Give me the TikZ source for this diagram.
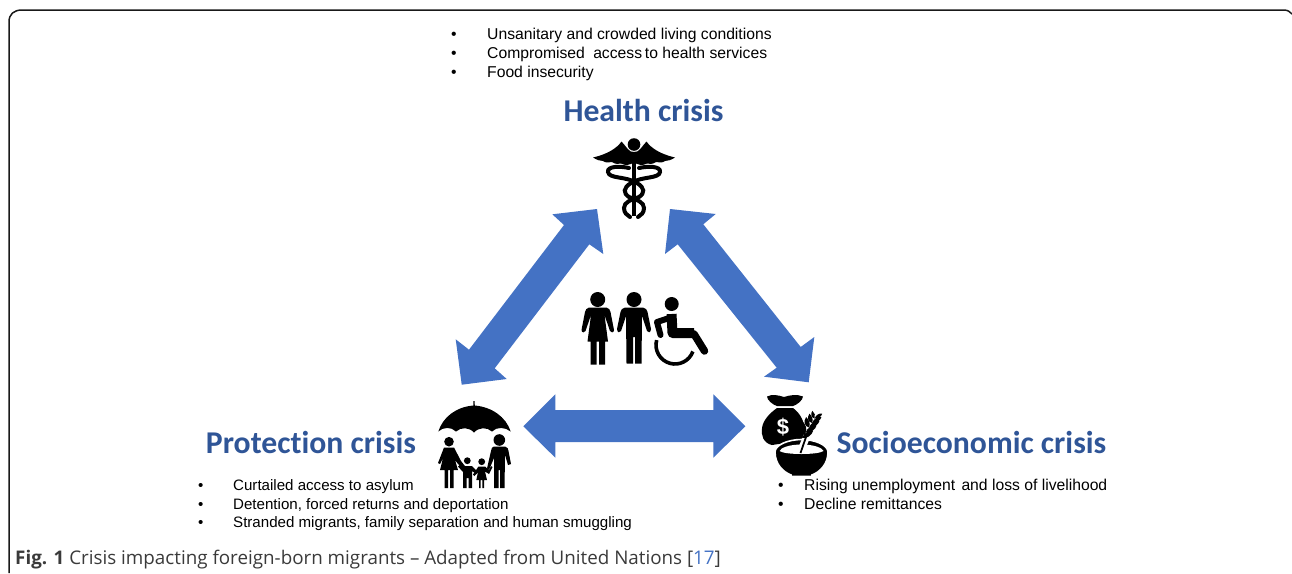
\documentclass[tikz,border=0pt]{standalone}
\usepackage{fontspec}
\setmainfont{Liberation Sans}
\newfontfamily\titlefont[Ligatures=NoCommon]{Carlito}
\newfontfamily\capfont{Open Sans}
\definecolor{arrowblue}{HTML}{4472C4}
\definecolor{titleblue}{HTML}{2F5597}
\definecolor{captext}{HTML}{3A3A3A}
\tikzset{
  bluearrow/.style={fill=arrowblue,draw=none},
  blackfill/.style={fill=black,draw=none},
  limb/.style={draw=black,line cap=round,line join=round},
  crisistitle/.style={anchor=base,inner sep=0pt,text=titleblue,font=\titlefont\bfseries\fontsize{31.7}{34}\selectfont},
  bulletline/.style={anchor=base west,inner sep=0pt,font=\fontsize{15.7}{18}\selectfont},
  bulletlow/.style={anchor=base west,inner sep=0pt,font=\fontsize{15.1}{18}\selectfont},
  captionline/.style={anchor=base west,inner sep=0pt,text=captext,font=\capfont\fontsize{18.8}{21}\selectfont},
}
\begin{document}
\begin{tikzpicture}[x=1pt,y=-1pt]
\useasboundingbox (0,0) rectangle (1292,573);
% frame
\draw[line width=1.5pt,color=black!90,line cap=butt] (9,573) -- (9,22) .. controls (9,14) and (14,10) .. (22,10) -- (1284,10) .. controls (1288,10) and (1290,12) .. (1292,14);

% block arrows
\path[bluearrow] (597,209) -- (552.3,214.3) -- (564,225) -- (469,349.7) -- (455.7,339.3) -- (461.7,384.7) -- (506.7,379) -- (494.7,368.3) -- (589.3,244.3) -- (603.3,254) -- cycle;
\path[bluearrow] (670,209) -- (715.7,214) -- (703.3,224.3) -- (800.7,347) -- (814.3,337) -- (808.7,382.3) -- (764,376.7) -- (776.7,367.7) -- (677.7,244.3) -- (665,254) -- cycle;
\path[bluearrow] (523.3,426.3) -- (555.3,394.3) -- (555.3,410) -- (713.3,410) -- (713.3,394.3) -- (745.3,426.3) -- (713.3,457.7) -- (713.3,442) -- (555.3,442) -- (555.3,457.7) -- cycle;

% caduceus
\fill (634,144.5) circle (6.3);
\path[blackfill] (634,152) .. controls (629,153) and (626,146) .. (621.5,141.5)
  .. controls (617,148) and (608,154) .. (593,157.5)
  .. controls (597,160) and (600,161) .. (603,161) .. controls (606,163.5) and (610,162) .. (612,162)
  .. controls (616,165) and (619,163.5) .. (621,163.5) .. controls (625,166) and (631,165) .. (634,162)
  .. controls (637,165) and (643,166) .. (647,163.5) .. controls (649,163.5) and (652,165) .. (656,162)
  .. controls (658,162) and (662,163.5) .. (665,161) .. controls (668,161) and (671,160) .. (675,157.5)
  .. controls (660,154) and (651,148) .. (646.5,141.5)
  .. controls (642,146) and (639,153) .. (634,152) -- cycle;
\draw[line width=3.2pt] (634,160) -- (634,216);
\foreach \s in {1,-1}{
\begin{scope}[shift={(634,0)},xscale=\s]
\draw[line width=4pt,line cap=round] (-5,168) .. controls (-14,166) and (-27,166) .. (-26,172) .. controls (-25,179) and (-8,176) .. (3,183) .. controls (11,188) and (11,193) .. (5,197) .. controls (-3,200) and (-10,202) .. (-10,208) .. controls (-10,213) and (-7,215) .. (-4,217);
\end{scope}}

% people
\fill (597.7,299.5) circle (7.5);
\path[blackfill] (589,307.5) -- (606.5,307.5) .. controls (609,308) and (610,310) .. (610.5,312) -- (614,330) .. controls (614,333) and (610.5,333) .. (610,331) -- (604.5,315) -- (608,341.5) -- (605,341.5) -- (605,364.5) -- (599,364.5) -- (599,341.5) -- (596.5,341.5) -- (596.5,364.5) -- (590.5,364.5) -- (590.5,341.5) -- (587.5,341.5) -- (591,315) -- (585.5,331) .. controls (585,333) and (581.5,333) .. (581.5,330) -- (585,312) .. controls (585.5,310) and (586.5,308) .. (589,307.5) -- cycle;
\fill (634,299.5) circle (7.5);
\path[blackfill] (625,307.5) -- (643,307.5) .. controls (646,308) and (647,310) .. (647.5,312) -- (651,329) .. controls (651,333) and (647.5,333) .. (647,331) -- (642,316) -- (641.5,363.5) -- (635,363.5) -- (635,337) -- (633,337) -- (633,363.5) -- (626.5,363.5) -- (626,316) -- (621,331) .. controls (620.5,333) and (617,333) .. (617,329) -- (620.5,312) .. controls (621,310) and (622,308) .. (625,307.5) -- cycle;
\fill (671.7,304) circle (7);
\draw[limb,line width=10pt,line cap=butt] (671.5,314) -- (672.5,333) -- (694,333);
\draw[limb,line width=7.5pt] (694,334) -- (704.5,351);
\draw[limb,line width=6pt] (672,317) -- (657,322) -- (660.5,335);
\draw[line width=3.6pt] (675,345) ++(195:19) arc[start angle=195,end angle=20,radius=19];

% umbrella
\path[blackfill] (473.3,405.5) -- (473.5,401) -- (474.5,401) -- (474.8,405.5)
  .. controls (492,407) and (506,417) .. (510.7,431.5)
  .. controls (505,427) and (497,426.5) .. (492,431.5)
  .. controls (487,427) and (479,427) .. (474,432.5)
  .. controls (469,427) and (461,427) .. (456,431.5)
  .. controls (451,426.5) and (443,427) .. (438.3,431.5)
  .. controls (443,417) and (456,407) .. (473.3,405.5) -- cycle;
% family
\fill (449,441.7) circle (4.8);
\path[blackfill] (444,447.5) -- (454,447.5) -- (461,461) -- (468,470) -- (467,472) -- (458,464) -- (455,460) -- (458,470) -- (453.5,470) -- (453.5,488) -- (450,488) -- (450,470) -- (448,470) -- (448,488) -- (444.5,488) -- (444.5,470) -- (440,470) -- (443,458) -- (440,464) -- (438,463) -- cycle;
\fill (467.3,460.7) circle (3.4);
\path[blackfill] (463,466) -- (472,466) -- (478,472) -- (476.5,474) -- (472,471) -- (472,488) -- (468.5,488) -- (468.5,478) -- (466.5,478) -- (466.5,488) -- (463,488) -- (463,472) -- (458,466.5) -- (459.5,465) -- cycle;
\fill (481.7,461.7) circle (3.4);
\path[blackfill] (478.5,466.5) -- (485,466.5) -- (489,470) -- (491,466) -- (492.5,467) -- (489,474) -- (485,471.5) -- (487,480) -- (484,480) -- (484,488) -- (482.3,488) -- (482.3,480) -- (480.7,480) -- (480.7,488) -- (479,488) -- (479,480) -- (476.3,480) -- (478,472) -- (474.5,476) -- (473,474.5) -- cycle;
\fill (499.3,440) circle (5.8);
\path[blackfill] (494,446.5) -- (505,446.5) .. controls (508,447) and (508,449) .. (508.5,451) -- (511,464) -- (508,465) -- (505,455) -- (504.5,488) -- (500,488) -- (500,470) -- (498.5,470) -- (498.5,488) -- (494,488) -- (494,458) -- (489,470) -- (487,468.5) -- (491,451) .. controls (491.5,448) and (492,447) .. (494,446.5) -- cycle;

% money bag
\path[blackfill] (767,396.5) .. controls (772,394) and (778,395) .. (784,397) .. controls (790,395) and (797,394) .. (803,396.5) .. controls (803,400) and (797,405) .. (793,406) -- (777,406) .. controls (773,405) and (767,400) .. (767,396.5) -- cycle;
\path[blackfill] (777,408) -- (793,408) .. controls (800,413) and (806,422) .. (806,440) -- (772,445) .. controls (763,443) and (761,435) .. (762,428) .. controls (763,420) and (770,413) .. (777,408) -- cycle;
\node[inner sep=0pt,text=white,font=\bfseries\fontsize{22}{22}\selectfont] (dollar) at (783,427.5) {\$};
% bowl
\path[fill=black,draw=white,line width=1.6pt] (775,452) .. controls (775,445) and (788,439.5) .. (801.5,439.5) .. controls (815,439.5) and (828,445) .. (828,452) .. controls (828,464) and (820,472) .. (812,475) -- (812,476.5) -- (791,476.5) -- (791,475) .. controls (783,472) and (775,464) .. (775,452) -- cycle;
\path[fill=white,draw=none] (779.5,451) .. controls (781,447.5) and (790,444.5) .. (801.5,444.5) .. controls (813,444.5) and (822,447.5) .. (823.5,451) .. controls (818,455) and (785,455) .. (779.5,451) -- cycle;
% wheat
\draw[white,line width=7pt] (801,450) -- (807,436);
\draw[line width=1.8pt] (800.5,453) -- (806,437);
\foreach \px/\py/\sc in {802/438/1,805.5/432.5/1,809/427.5/.95,812/423/.85,814.5/418.5/.7}{
  \begin{scope}[shift={(\px,\py)},scale=\sc]
    \path[blackfill] (0,0) .. controls (-5,-1) and (-6,-7) .. (-3,-11) .. controls (0,-8) and (2,-4) .. (0,0) -- cycle;
    \path[blackfill] (0,0) .. controls (2,-5) and (7,-8) .. (11,-7) .. controls (10,-3) and (5,1) .. (0,0) -- cycle;
  \end{scope}}

% titles
\node[crisistitle] (health) at (643.5,121) {Health crisis};
\node[crisistitle] (protection) at (311,453.5) {Protection crisis};
\node[crisistitle] (socio) at (971.5,453.5) {Socioeconomic crisis};

% bullets
\node[bulletline] (h1) at (451,39.5) {\makebox[36pt][l]{•}Unsanitary and crowded living conditions};
\node[bulletline] (h2) at (451,58) {\makebox[36pt][l]{•}Compromised\hspace{4pt} access\hspace{-1.5pt} to health services};
\node[bulletline] (h3) at (451,77) {\makebox[36pt][l]{•}Food insecurity};
\node[bulletlow] (p1) at (198,490) {\makebox[35pt][l]{•}Curtailed access to asylum};
\node[bulletlow] (p2) at (198,509) {\makebox[35pt][l]{•}Detention, forced returns and deportation};
\node[bulletlow] (p3) at (198,527.5) {\makebox[35pt][l]{•}Stranded migrants, family separation and human smuggling};
\node[bulletline] (s1) at (778,490) {\makebox[26pt][l]{•}Rising unemployment\hspace{2pt} and loss of livelihood};
\node[bulletline] (s2) at (778,509) {\makebox[26pt][l]{•}Decline remittances};

% caption
\node[captionline] (caption) at (15,564) {\textbf{Fig. 1} Crisis impacting foreign-born migrants – Adapted from United Nations [{\color{arrowblue}17}]};
\end{tikzpicture}
\end{document}
